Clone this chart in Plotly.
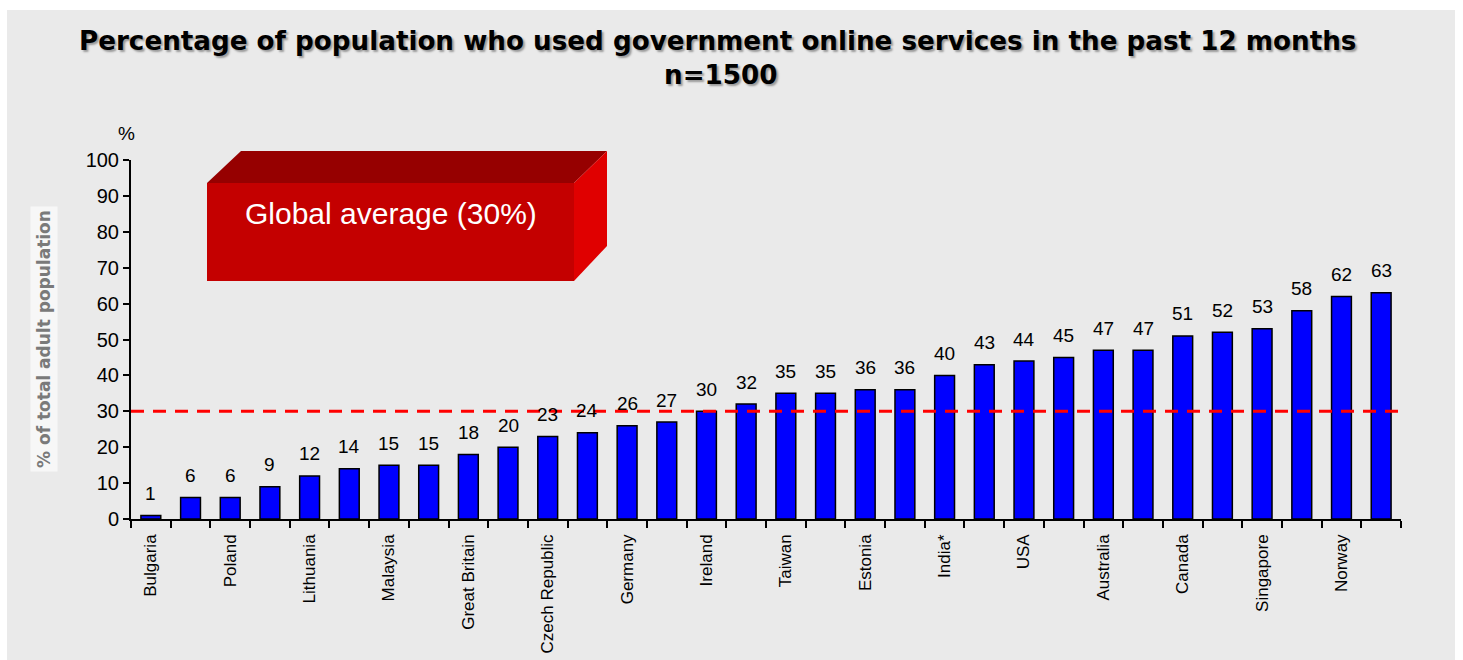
import plotly.graph_objects as go

# Survey results: share of adults using e-government services, sorted ascending
values = [1, 6, 6, 9, 12, 14, 15, 15, 18, 20, 23, 24, 26, 27, 30, 32,
          35, 35, 36, 36, 40, 43, 44, 45, 47, 47, 51, 52, 53, 58, 62, 63]
# Only every other bar carries a country name on the axis
country_labels = ["Bulgaria", "Poland", "Lithuania", "Malaysia", "Great Britain",
                  "Czech Republic", "Germany", "Ireland", "Taiwan", "Estonia",
                  "India*", "USA", "Australia", "Canada", "Singapore", "Norway"]
label_positions = [0, 2, 4, 6, 8, 10, 12, 14, 16, 18, 20, 22, 24, 26, 28, 30]
y_ticks = [0, 10, 20, 30, 40, 50, 60, 70, 80, 90, 100]
global_average = 30

W, H = 1463, 660
ML, MR, MT, MB = 131, 62, 160, 141
PW, PH = W - ML - MR, H - MT - MB


def px(x):
    return (x - ML) / PW


def py(y):
    return (H - MB - y) / PH


n = len(values)
xs = list(range(n))

fig = go.Figure()
fig.add_trace(go.Bar(
    x=xs, y=values, width=0.5,
    marker=dict(color="#0000FF", line=dict(color="#000000", width=1.5)),
    hoverinfo="y", showlegend=False,
))
# dashed global-average reference line on the boundary axis
fig.add_trace(go.Scatter(
    x=[-0.5, n - 0.5], y=[global_average, global_average],
    mode="lines", xaxis="x2",
    line=dict(color="#FF0000", width=3, dash="13px,9px"),
    hoverinfo="skip", showlegend=False,
))

annotations = []
for x, v in zip(xs, values):
    annotations.append(dict(
        x=x, y=v, xref="x", yref="y", text=str(v), showarrow=False,
        yanchor="middle", yshift=22,
        font=dict(family="Liberation Sans, Arial, sans-serif", size=19, color="#000"),
    ))

title_font = dict(family="DejaVu Sans, sans-serif", size=26.2, color="#000",
                  weight="bold", shadow="2px 2px 2px #9a9a9a")

annotations += [
    dict(x=px(126), y=py(133), xref="paper", yref="paper", text="%",
         xanchor="center", yanchor="middle", showarrow=False,
         font=dict(family="Liberation Sans, Arial, sans-serif", size=19, color="#000")),
    dict(x=px(44), y=py(339), xref="paper", yref="paper",
         text="% of total adult population", textangle=-90, showarrow=False,
         xanchor="center", yanchor="middle", bgcolor="#F7F7F7", borderpad=3,
         font=dict(family="DejaVu Sans, sans-serif", size=17, color="#7a7a7a",
                   weight="bold")),
    dict(x=px(243), y=py(213), xref="paper", yref="paper",
         xanchor="left", yanchor="middle",
         text="Global average (30%)", showarrow=False,
         font=dict(family="Liberation Sans, Arial, sans-serif", size=30, color="#FFFFFF")),
    dict(x=px(717), y=py(41), xref="paper", yref="paper",
         xanchor="center", yanchor="middle",
         text="Percentage of population who used government online services in the past 12 months",
         showarrow=False, font=title_font),
    dict(x=px(720), y=py(75), xref="paper", yref="paper", text="n=1500",
         xanchor="center", yanchor="middle", showarrow=False, font=title_font),
]

shapes = [
    # grey panel
    dict(type="rect", xref="paper", yref="paper", layer="below",
         x0=px(7), x1=px(1455), y0=py(660), y1=py(10),
         fillcolor="#EAEAEA", line=dict(width=0)),
    # 3D label box: top face, right face, front face
    dict(type="path", xref="paper", yref="paper", layer="below",
         path=f"M {px(207)} {py(183)} L {px(241)} {py(151)} L {px(607)} {py(151)} "
              f"L {px(574)} {py(183)} Z",
         fillcolor="#960000", line=dict(width=0)),
    dict(type="path", xref="paper", yref="paper", layer="below",
         path=f"M {px(574)} {py(183)} L {px(607)} {py(151)} L {px(607)} {py(246)} "
              f"L {px(574)} {py(281)} Z",
         fillcolor="#E00000", line=dict(width=0)),
    dict(type="rect", xref="paper", yref="paper", layer="below",
         x0=px(207), x1=px(574), y0=py(281), y1=py(183),
         fillcolor="#C40000", line=dict(width=0)),
]

fig.update_layout(
    width=W, height=H, autosize=False,
    margin=dict(l=ML, r=MR, t=MT, b=MB, pad=0),
    paper_bgcolor="#FFFFFF", plot_bgcolor="rgba(0,0,0,0)",
    bargap=0.5,
    xaxis=dict(
        range=[-0.5, n - 0.5], tickvals=label_positions, ticktext=country_labels,
        tickangle=-90, ticks="", showgrid=False, zeroline=False, showline=False,
        ticklabelstandoff=11, automargin=False,
        tickfont=dict(family="Liberation Sans, Arial, sans-serif", size=17, color="#000"),
    ),
    xaxis2=dict(
        overlaying="x", side="bottom", range=[-0.5, n - 0.5],
        tickvals=[i - 0.5 for i in range(n + 1)], showticklabels=False,
        ticks="outside", ticklen=7, tickwidth=2, tickcolor="#000",
        showline=True, linecolor="#000", linewidth=2,
        showgrid=False, zeroline=False, automargin=False,
    ),
    yaxis=dict(
        range=[0, 100], tickvals=y_ticks, ticks="outside", ticklen=6, tickwidth=2,
        tickcolor="#000", showline=True, linecolor="#000", linewidth=2,
        showgrid=False, zeroline=False, automargin=False,
        tickfont=dict(family="Liberation Sans, Arial, sans-serif", size=20, color="#000"),
    ),
    annotations=annotations,
    shapes=shapes,
)

fig.write_html("out.html")
